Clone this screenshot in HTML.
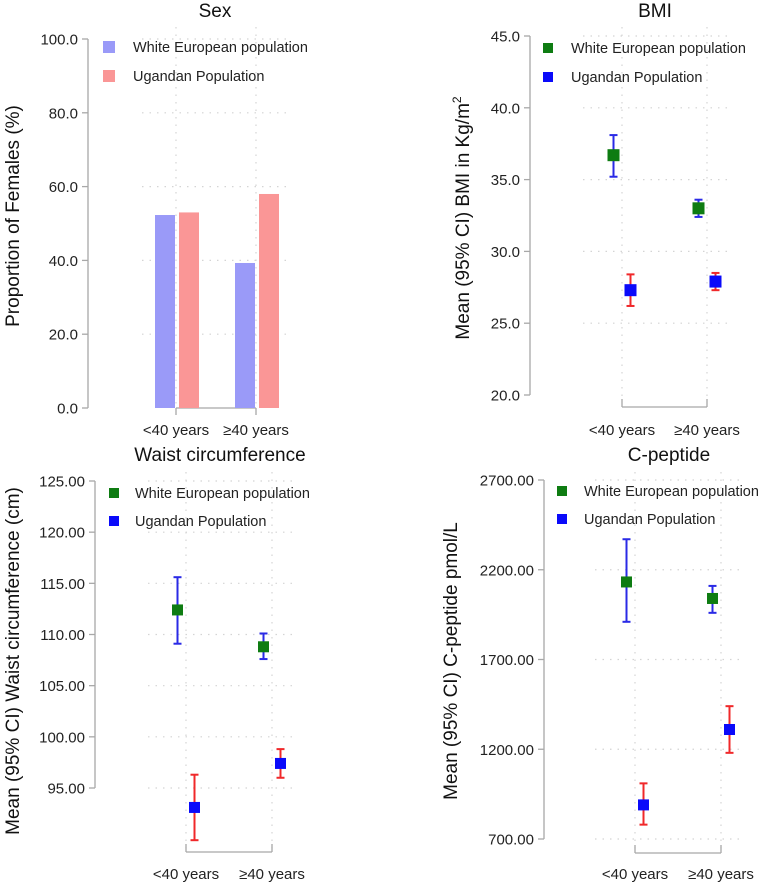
<!DOCTYPE html>
<html><head><meta charset="utf-8"><style>
body{margin:0;background:#fff;width:775px;height:884px;overflow:hidden}
svg{display:block;font-family:"Liberation Sans",Arial,sans-serif}
</style></head><body>
<svg id="chart" width="775" height="884"></svg>
<script>
const categories = ["<40 years", "≥40 years"];
const sexWhite = [52.3, 39.3];
const sexUganda = [53.0, 58.0];
const sexTicks = [0, 20, 40, 60, 80, 100];
const bmiWhite = [36.7, 33.0];
const bmiWhiteLo = [35.2, 32.4];
const bmiWhiteHi = [38.1, 33.6];
const bmiUganda = [27.3, 27.9];
const bmiUgandaLo = [26.2, 27.3];
const bmiUgandaHi = [28.4, 28.5];
const bmiTicks = [20, 25, 30, 35, 40, 45];
const waistWhite = [112.4, 108.8];
const waistWhiteLo = [109.1, 107.6];
const waistWhiteHi = [115.6, 110.1];
const waistUganda = [93.1, 97.4];
const waistUgandaLo = [89.9, 96.0];
const waistUgandaHi = [96.3, 98.8];
const waistTicks = [95, 100, 105, 110, 115, 120, 125];
const cpepWhite = [2132, 2040];
const cpepWhiteLo = [1910, 1960];
const cpepWhiteHi = [2370, 2110];
const cpepUganda = [890, 1310];
const cpepUgandaLo = [780, 1180];
const cpepUgandaHi = [1010, 1440];
const cpepTicks = [700, 1200, 1700, 2200, 2700];

const NS = "http://www.w3.org/2000/svg";
const svg = document.getElementById("chart");
function mk(tag, attrs, parent, txt) {
  const e = document.createElementNS(NS, tag);
  for (const k in attrs) e.setAttribute(k, attrs[k]);
  if (txt !== undefined) e.textContent = txt;
  (parent || svg).appendChild(e);
  return e;
}
function linScale(d0, d1, r0, r1) { return v => r0 + (v - d0) * (r1 - r0) / (d1 - d0); }

function panelFrame(g, o) {
  // o: axisX, y (scale), ticks, dec, catX, gridX0, gridX1, gridTop, bottomY, tickTop, tickBottom, title, titleX, titleY, ylab, ylabX, ylabY, bracketUp
  const y = o.y;
  o.ticks.forEach(t => {
    if (t !== o.ticks[0] || o.gridFirst) {
      const gl = mk("line", {x1:o.gridX0, x2:o.gridX1, y1:y(t), y2:y(t), stroke:"#d4d4d4", "stroke-width":1.2, "stroke-dasharray":"1.5,6"}, g);
      
      
    }
    const tk = mk("line", {x1:o.axisX-6, x2:o.axisX, y1:y(t), y2:y(t), stroke:"#a8a8a8", "stroke-width":1.3}, g);
    
    
    const lb = mk("text", {x:o.axisX-10, y:y(t)+5.5, "text-anchor":"end", "font-size":15, fill:"#222"}, g, t.toFixed(o.dec));
    
    
  });
  const ax = mk("line", {x1:o.axisX, x2:o.axisX, y1:y(o.ticks[o.ticks.length-1]), y2:y(o.ticks[0]), stroke:"#a8a8a8", "stroke-width":1.3}, g);
  
  
  o.catX.forEach((cx, i) => {
    const vg = mk("line", {x1:cx, x2:cx, y1:o.gridTop, y2:o.bottomY, stroke:"#d4d4d4", "stroke-width":1.2, "stroke-dasharray":"1.5,6"}, g);
    
    
    const xt = mk("line", {x1:cx, x2:cx, y1:o.tickTop, y2:o.tickBottom, stroke:"#a8a8a8", "stroke-width":1.3}, g);
    
    
    const xl = mk("text", {x:cx, y:o.xlabY, "text-anchor":"middle", "font-size":15, fill:"#222"}, g, categories[i]);
    
    
  });
  const xa = mk("line", {x1:o.catX[0], x2:o.catX[1], y1:o.xAxisY, y2:o.xAxisY, stroke:"#a8a8a8", "stroke-width":1.3}, g);
  
  
  const tt = mk("text", {x:o.titleX, y:o.titleY, "text-anchor":"middle", "font-size":19, fill:"#111"}, g, o.title);
  
  
  const yl = mk("text", {x:0, y:0, "text-anchor":"middle", "font-size":19, fill:"#111", transform:`translate(${o.ylabX},${o.ylabY}) rotate(-90)`}, g);
  
  
  if (o.ylabSup) {
    mk("tspan", {}, yl, o.ylab);
    mk("tspan", {dy:-8, "font-size":12}, yl, o.ylabSup);
  } else yl.textContent = o.ylab;
}

function legend(g, x, y1, y2, c1, c2, sz, tx) {
  const items = [["White European population", c1, y1], ["Ugandan Population", c2, y2]];
  items.forEach(([lab, c, yy]) => {
    const lg = mk("g", {}, g);
    
    
    mk("rect", {x:x, y:yy, width:sz, height:sz, fill:c}, lg);
    mk("text", {x:tx, y:yy+sz/2+5, "font-size":14.5, fill:"#222"}, lg, lab);
  });
}

function errPoint(g, x, y, v, lo, hi, mc, ec, sz, name) {
  const pg = mk("g", {}, g);
  
  
  mk("line", {x1:x, x2:x, y1:y(hi), y2:y(lo), stroke:ec, "stroke-width":2}, pg);
  mk("line", {x1:x-4, x2:x+4, y1:y(hi), y2:y(hi), stroke:ec, "stroke-width":2}, pg);
  mk("line", {x1:x-4, x2:x+4, y1:y(lo), y2:y(lo), stroke:ec, "stroke-width":2}, pg);
  mk("rect", {x:x-sz/2, y:y(v)-sz/2, width:sz, height:sz, fill:mc}, pg);
}

const GREEN = "#0e7c12", BLUE = "#0a0afa", RED = "#f0282a", EBLUE = "#2a2ae6";

// Panel 1: Sex
(function(){
  const g = mk("g", {});
  
  
  const y = linScale(0, 100, 408, 39);
  const catX = [176, 256];
  panelFrame(g, {axisX:88, y, ticks:sexTicks, dec:1, catX, gridX0:142, gridX1:287, gridTop:27, bottomY:408, tickTop:408, tickBottom:415, xAxisY:408, xlabY:435, title:"Sex", titleX:215, titleY:17, ylab:"Proportion of Females (%)", ylabX:19, ylabY:216});
  const bw = 20;
  sexWhite.forEach((v, i) => {
    const b = mk("rect", {x:catX[i]-21, y:y(v), width:bw, height:y(0)-y(v), fill:"#9a9af8"}, g);
    
    
  });
  sexUganda.forEach((v, i) => {
    const b = mk("rect", {x:catX[i]+3, y:y(v), width:bw, height:y(0)-y(v), fill:"#fa9696"}, g);
    
    
  });
  legend(g, 103, 41, 70, "#9a9af8", "#fa9696", 12, 133);
})();

function pointPanel(name, opts, wv, wlo, whi, uv, ulo, uhi) {
  const g = mk("g", {});
  
  
  panelFrame(g, opts);
  const sz = opts.msz;
  wv.forEach((v, i) => errPoint(g, opts.catX[i]-opts.off, opts.y, v, wlo[i], whi[i], GREEN, EBLUE, sz, 'point-white-european'));
  uv.forEach((v, i) => errPoint(g, opts.catX[i]+opts.off, opts.y, v, ulo[i], uhi[i], BLUE, RED, sz, 'point-ugandan'));
  legend(g, opts.legX, opts.legY1, opts.legY2, GREEN, BLUE, opts.lsz, opts.legTX);
}

pointPanel('bmi-panel', {axisX:530, y:linScale(20, 45, 395, 36), ticks:bmiTicks, dec:1, catX:[622, 707], off:8.5, gridX0:583, gridX1:728, gridTop:27, bottomY:400, tickTop:399, tickBottom:407, xAxisY:407, xlabY:435, title:"BMI", titleX:655, titleY:17, ylab:"Mean (95% CI) BMI in Kg/m", ylabSup:"2", ylabX:469, ylabY:218, msz:12, off2:0, legX:543, legY1:43, legY2:72, lsz:10, legTX:571},
  bmiWhite, bmiWhiteLo, bmiWhiteHi, bmiUganda, bmiUgandaLo, bmiUgandaHi);

pointPanel('waist-panel', {axisX:95, y:linScale(95, 125, 788, 481), ticks:waistTicks, dec:2, catX:[186, 272], off:8.5, gridX0:148, gridX1:292, gridTop:472, bottomY:852, tickTop:844, tickBottom:852, xAxisY:852, xlabY:879, title:"Waist circumference", titleX:220, titleY:461, ylab:"Mean (95% CI) Waist circumference (cm)", ylabX:19, ylabY:661, msz:11, legX:109, legY1:488, legY2:516, lsz:10, legTX:135, gridFirst:true},
  waistWhite, waistWhiteLo, waistWhiteHi, waistUganda, waistUgandaLo, waistUgandaHi);

pointPanel('cpeptide-panel', {axisX:544, y:linScale(700, 2700, 839, 480), ticks:cpepTicks, dec:2, catX:[635, 721], off:8.5, gridX0:595, gridX1:740, gridTop:472, bottomY:853, tickTop:845, tickBottom:853, xAxisY:853, xlabY:879, title:"C-peptide", titleX:669, titleY:461, ylab:"Mean (95% CI) C-peptide pmol/L", ylabX:457, ylabY:661, msz:11, legX:557, legY1:486, legY2:514, lsz:10, legTX:584, gridFirst:true},
  cpepWhite, cpepWhiteLo, cpepWhiteHi, cpepUganda, cpepUgandaLo, cpepUgandaHi);
</script>
</body></html>
